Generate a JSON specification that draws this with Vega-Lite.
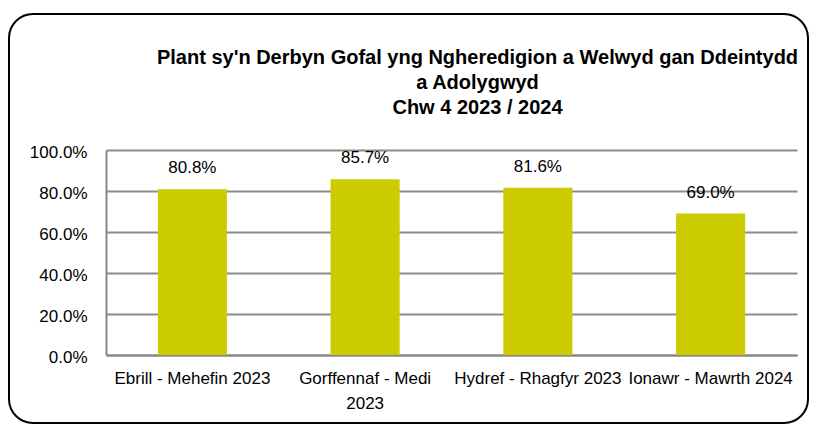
{
  "$schema": "https://vega.github.io/schema/vega-lite/v6.json",
  "width": 799,
  "height": 409,
  "autosize": {"type": "none"},
  "padding": {"left": 9, "top": 14, "right": 8, "bottom": 5},
  "background": "white",
  "config": {
    "font": "Liberation Sans",
    "view": {"stroke": "black", "strokeWidth": 2, "cornerRadius": 24, "fill": "white"}
  },
  "title": {
    "text": ["Plant sy'n Derbyn Gofal yng Ngheredigion a Welwyd gan Ddeintydd", "a Adolygwyd", "Chw 4 2023 / 2024"],
    "font": "Liberation Sans",
    "fontSize": 20,
    "fontWeight": "bold",
    "lineHeight": 25,
    "color": "black",
    "anchor": "middle",
    "frame": "group",
    "baseline": "top",
    "dx": 69,
    "offset": -104
  },
  "data": {
    "values": [
      {"period": "Ebrill - Mehefin 2023", "value": 0.808},
      {"period": "Gorffennaf - Medi 2023", "value": 0.857},
      {"period": "Hydref - Rhagfyr 2023", "value": 0.816},
      {"period": "Ionawr - Mawrth 2024", "value": 0.690}
    ]
  },
  "encoding": {
    "x": {
      "field": "period",
      "type": "nominal",
      "sort": null,
      "scale": {"range": [97, 788], "paddingInner": 0.6, "paddingOuter": 0.3},
      "axis": {
        "title": null,
        "orient": "bottom",
        "offset": -68,
        "labelAngle": 0,
        "labelFontSize": 17,
        "labelColor": "black",
        "labelBaseline": "top",
        "labelPadding": 15,
        "labelLineHeight": 25,
        "labelLimit": 0,
        "labelOverlap": false,
        "ticks": false,
        "domainColor": "#888888",
        "domainWidth": 2,
        "grid": false,
        "labelExpr": "datum.value == 'Gorffennaf - Medi 2023' ? ['Gorffennaf - Medi', '2023'] : datum.value"
      }
    },
    "y": {
      "field": "value",
      "type": "quantitative",
      "scale": {"domain": [0, 1], "range": [341, 136], "nice": false, "zero": true},
      "axis": {
        "title": null,
        "orient": "left",
        "offset": -97,
        "values": [0, 0.2, 0.4, 0.6, 0.8, 1.0],
        "format": ".1%",
        "labelFontSize": 17,
        "labelColor": "black",
        "labelPadding": 19,
        "labelOffset": 2,
        "ticks": false,
        "domainColor": "#888888",
        "domainWidth": 2,
        "grid": true,
        "gridColor": "#8c8c8c",
        "gridWidth": 2
      }
    }
  },
  "layer": [
    {"mark": {"type": "bar", "color": "#CCCC00"}},
    {
      "mark": {"type": "text", "baseline": "alphabetic", "dy": -16, "fontSize": 17, "color": "black"},
      "encoding": {"text": {"field": "value", "type": "quantitative", "format": ".1%"}}
    }
  ]
}
